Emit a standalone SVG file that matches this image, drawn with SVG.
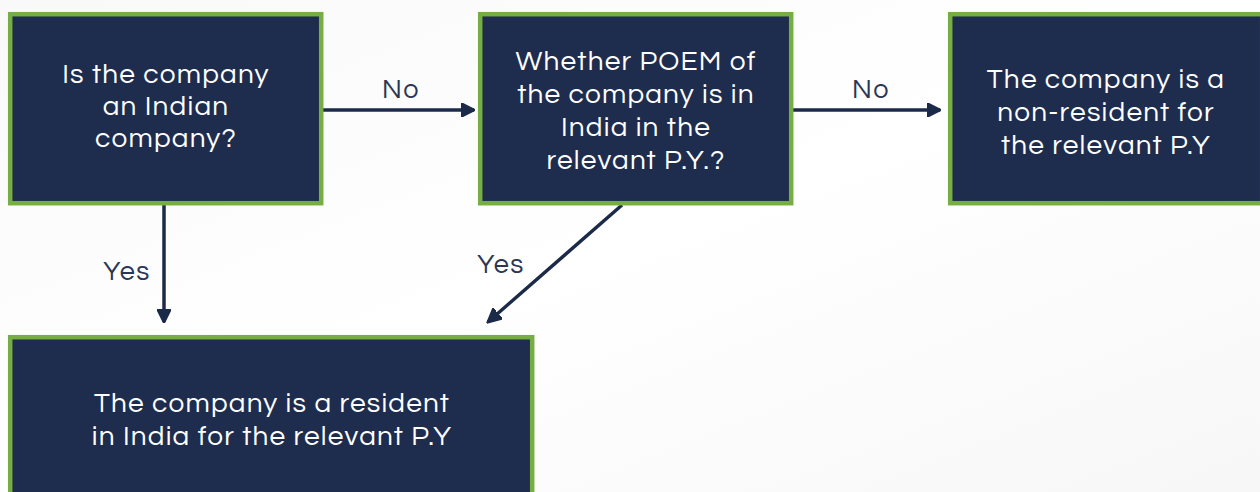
<svg xmlns="http://www.w3.org/2000/svg" width="1260" height="492" viewBox="0 0 1260 492">
<defs>
<linearGradient id="bg" x1="0" y1="0" x2="1" y2="1">
<stop offset="0" stop-color="#f9f9fa"/>
<stop offset="0.5" stop-color="#ffffff"/>
<stop offset="1" stop-color="#f7f7f8"/>
</linearGradient>
<marker id="ah" viewBox="0 0 10 10" refX="9" refY="5" markerWidth="4.2" markerHeight="4.2" orient="auto" markerUnits="strokeWidth">
<path d="M0,0 L10,5 L0,10 z" fill="#1c2a4a" stroke="#1c2a4a" stroke-linejoin="round"/>
</marker>
<style>
.box{fill:#1e2d4e;stroke:#76ae43;stroke-width:4.5}
.t{font-family:"Century Gothic","Questrial","Noto Sans","Liberation Sans",sans-serif;font-size:28px;letter-spacing:1.2px;fill:#ffffff;text-anchor:middle;font-weight:300}
.lbl{font-family:"Century Gothic","Questrial","Noto Sans","Liberation Sans",sans-serif;font-size:27px;letter-spacing:1.5px;fill:#2a3654;text-anchor:middle;font-weight:300}
.c{stroke:#1c2a4a;stroke-width:3.5;fill:none;marker-end:url(#ah)}
</style>
</defs>
<rect width="1260" height="492" fill="url(#bg)"/>
<g id="connectors">
<line class="c" x1="323" y1="110" x2="474" y2="110"/>
<line class="c" x1="793" y1="110" x2="940" y2="110"/>
<line class="c" x1="164" y1="205" x2="164" y2="322"/>
<line class="c" x1="622" y1="205" x2="488" y2="322"/>
<text class="lbl" x="401" y="98">No</text>
<text class="lbl" x="871" y="98">No</text>
<text class="lbl" x="127" y="280">Yes</text>
<text class="lbl" x="501" y="273">Yes</text>
</g>
<g id="n1">
<rect class="box" x="10.2" y="14.2" width="311" height="189"/>
<text class="t" x="166" y="83">Is the company</text>
<text class="t" x="166" y="115">an Indian</text>
<text class="t" x="166" y="147">company?</text>
</g>
<g id="n2">
<rect class="box" x="480.2" y="14.2" width="311" height="189"/>
<text class="t" x="636" y="70">Whether POEM of</text>
<text class="t" x="636" y="103">the company is in</text>
<text class="t" x="636" y="136">India in the</text>
<text class="t" x="636" y="169">relevant P.Y.?</text>
</g>
<g id="n3">
<rect class="box" x="950.2" y="14.2" width="312" height="189"/>
<text class="t" x="1106" y="88">The company is a</text>
<text class="t" x="1106" y="121">non-resident for</text>
<text class="t" x="1106" y="154">the relevant P.Y</text>
</g>
<g id="n4">
<rect class="box" x="10.2" y="337.2" width="522" height="170"/>
<text class="t" x="272" y="412">The company is a resident</text>
<text class="t" x="272" y="445">in India for the relevant P.Y</text>
</g>
</svg>
